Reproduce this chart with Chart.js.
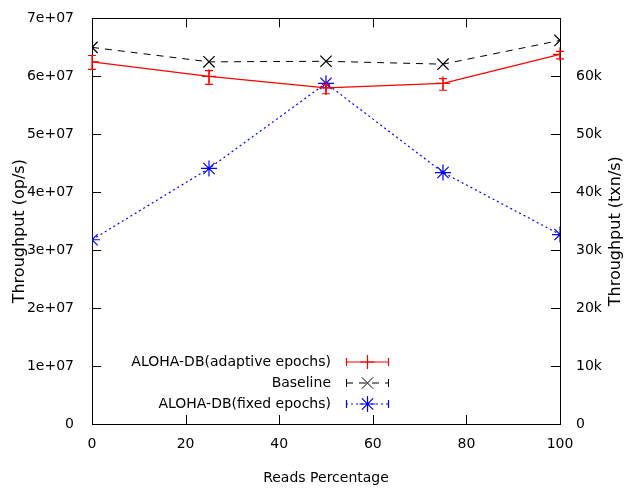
<!DOCTYPE html>
<html>
<head>
<meta charset="utf-8">
<title>Throughput vs reads percentage</title>
<script src="https://cdn.jsdelivr.net/npm/chart.js@4/dist/chart.umd.min.js"></script>
<style>
  html, body { margin: 0; padding: 0; background: #fff; }
  canvas { display: block; }
</style>
</head>
<body>
<canvas id="tput" width="628" height="489"></canvas>
<script>
const readsPct = [0, 25, 50, 75, 100];

// op/s, left axis
const adaptive = [6.25e7, 6.0e7, 5.8e7, 5.88e7, 6.38e7];
const adaptiveLo = [6.12e7, 5.86e7, 5.7e7, 5.76e7, 6.3e7];
const adaptiveHi = [6.36e7, 6.1e7, 5.86e7, 5.96e7, 6.43e7];
const baseline = [6.5e7, 6.25e7, 6.26e7, 6.21e7, 6.62e7];

// txn/s, right axis
const fixedEpochs = [31800, 44100, 58800, 43400, 32700];

const FONT = { family: '"DejaVu Sans", sans-serif', size: 14 };
const YTITLE_FONT = { family: '"DejaVu Sans", sans-serif', size: 16 };
const TICK_LEN = 9;
const Y_TITLE = 'Throughput (op/s)';
const Y2_TITLE = 'Throughput (txn/s)';

// gnuplot-like frame: box border with inward ticks on all four sides
const frame = {
  id: 'frame',
  beforeDatasetsDraw(chart) {
    const { ctx, chartArea: a, scales } = chart;
    ctx.save();
    ctx.strokeStyle = '#000';
    ctx.lineWidth = 1;
    ctx.beginPath();
    scales.x.ticks.forEach(t => {
      const px = Math.round(scales.x.getPixelForValue(t.value)) + 0.5;
      if (px <= a.left + 1 || px >= a.right - 1) return;
      ctx.moveTo(px, a.bottom); ctx.lineTo(px, a.bottom - TICK_LEN);
      ctx.moveTo(px, a.top); ctx.lineTo(px, a.top + TICK_LEN);
    });
    scales.y.ticks.forEach(t => {
      const py = Math.round(scales.y.getPixelForValue(t.value)) + 0.5;
      if (py <= a.top + 1 || py >= a.bottom - 1) return;
      ctx.moveTo(a.left, py); ctx.lineTo(a.left + TICK_LEN, py);
    });
    scales.y2.ticks.forEach(t => {
      const py = Math.round(scales.y2.getPixelForValue(t.value)) + 0.5;
      if (py <= a.top + 1 || py >= a.bottom - 1) return;
      ctx.moveTo(a.right, py); ctx.lineTo(a.right - TICK_LEN, py);
    });
    ctx.stroke();
    ctx.strokeRect(Math.round(a.left) + 0.5, Math.round(a.top) + 0.5,
      Math.round(a.right - a.left), Math.round(a.bottom - a.top));

    // both y titles read bottom-to-top
    ctx.font = `${YTITLE_FONT.size}px ${YTITLE_FONT.family}`;
    ctx.fillStyle = '#000';
    ctx.textAlign = 'center';
    ctx.textBaseline = 'middle';
    const midY = (a.top + a.bottom) / 2 + 10;
    [[20, Y_TITLE], [chart.width - 12, Y2_TITLE]].forEach(([tx, text]) => {
      ctx.save();
      ctx.translate(tx, midY);
      ctx.rotate(-Math.PI / 2);
      ctx.fillText(text, 0, 0);
      ctx.restore();
    });
    ctx.restore();
  }
};

// vertical error bars on the adaptive-epochs series
const errorBars = {
  id: 'errorBars',
  afterDatasetsDraw(chart) {
    const { ctx, scales } = chart;
    ctx.save();
    ctx.strokeStyle = '#ff0000';
    ctx.lineWidth = 1.2;
    ctx.beginPath();
    readsPct.forEach((r, i) => {
      const px = scales.x.getPixelForValue(r);
      const lo = scales.y.getPixelForValue(adaptiveLo[i]);
      const hi = scales.y.getPixelForValue(adaptiveHi[i]);
      ctx.moveTo(px, lo); ctx.lineTo(px, hi);
      ctx.moveTo(px - 4, lo); ctx.lineTo(px + 4, lo);
      ctx.moveTo(px - 4, hi); ctx.lineTo(px + 4, hi);
    });
    ctx.stroke();
    ctx.restore();
  }
};

// key at lower left: right-aligned labels, sample line to the right
const key = {
  id: 'key',
  afterDraw(chart) {
    const { ctx, chartArea: a } = chart;
    const textRight = a.left + 239;
    const x0 = a.left + 254, x1 = a.left + 297, xm = (x0 + x1) / 2;
    const rowY = [a.bottom - 62, a.bottom - 41, a.bottom - 20];
    ctx.save();
    ctx.font = `${FONT.size}px ${FONT.family}`;
    ctx.textAlign = 'right';
    ctx.textBaseline = 'middle';
    chart.data.datasets.forEach((ds, i) => {
      const y = rowY[i];
      ctx.fillStyle = '#000';
      ctx.fillText(ds.label, textRight, y);
      ctx.strokeStyle = ds.borderColor;
      ctx.lineWidth = ds.borderWidth;
      ctx.setLineDash(ds.borderDash || []);
      ctx.beginPath();
      ctx.moveTo(x0, y); ctx.lineTo(x1, y);
      ctx.stroke();
      ctx.setLineDash([]);
      ctx.beginPath();
      ctx.moveTo(x0 + 0.5, y - 4); ctx.lineTo(x0 + 0.5, y + 4);
      ctx.moveTo(x1 - 0.5, y - 4); ctx.lineTo(x1 - 0.5, y + 4);
      ctx.stroke();
      Chart.helpers.drawPoint(ctx, {
        pointStyle: ds.pointStyle,
        radius: ds.pointRadius,
        borderWidth: ds.pointBorderWidth,
        rotation: 0
      }, xm, y);
    });
    ctx.restore();
  }
};

new Chart(document.getElementById('tput'), {
  type: 'line',
  data: {
    datasets: [
      {
        label: 'ALOHA-DB(adaptive epochs)',
        data: readsPct.map((r, i) => ({ x: r, y: adaptive[i] })),
        yAxisID: 'y',
        borderColor: '#ff0000',
        backgroundColor: '#ff0000',
        borderWidth: 1.2,
        pointStyle: 'cross',
        pointRadius: 7,
        pointBorderWidth: 1.2,
        fill: false,
        tension: 0
      },
      {
        label: 'Baseline',
        data: readsPct.map((r, i) => ({ x: r, y: baseline[i] })),
        yAxisID: 'y',
        borderColor: '#000000',
        backgroundColor: '#000000',
        borderWidth: 1,
        borderDash: [7, 6],
        pointStyle: 'crossRot',
        pointRadius: 8,
        pointBorderWidth: 1.2,
        fill: false,
        tension: 0
      },
      {
        label: 'ALOHA-DB(fixed epochs)',
        data: readsPct.map((r, i) => ({ x: r, y: fixedEpochs[i] })),
        yAxisID: 'y2',
        borderColor: '#0000ff',
        backgroundColor: '#0000ff',
        borderWidth: 1.2,
        borderDash: [2, 3],
        pointStyle: 'star',
        pointRadius: 8,
        pointBorderWidth: 1.2,
        fill: false,
        tension: 0
      }
    ]
  },
  options: {
    responsive: false,
    animation: false,
    events: [],
    layout: { padding: { top: 17, left: 0, right: 0, bottom: 0 } },
    plugins: { legend: { display: false }, tooltip: { enabled: false } },
    scales: {
      x: {
        type: 'linear', min: 0, max: 100,
        afterFit(s) { s.height = 65; },
        grid: { display: false },
        border: { display: false },
        ticks: { stepSize: 20, color: '#000', font: FONT, padding: 4, maxRotation: 0 },
        title: { display: true, text: 'Reads Percentage', color: '#000', font: FONT, padding: { top: 0, bottom: 2 } }
      },
      y: {
        type: 'linear', position: 'left', min: 0, max: 7e7,
        afterFit(s) { s.width = 92; },
        grid: { display: false },
        border: { display: false },
        ticks: {
          stepSize: 1e7, color: '#000', font: FONT, padding: 10,
          callback: v => v === 0 ? '0' : (v / 1e7) + 'e+07'
        }
      },
      y2: {
        type: 'linear', position: 'right', min: 0, max: 70000,
        afterFit(s) { s.width = 68; },
        grid: { display: false },
        border: { display: false },
        ticks: {
          stepSize: 10000, color: '#000', font: FONT, padding: 8,
          callback: v => v >= 70000 ? '' : (v === 0 ? '0' : (v / 1000) + 'k')
        }
      }
    }
  },
  plugins: [frame, errorBars, key]
});
</script>
</body>
</html>
